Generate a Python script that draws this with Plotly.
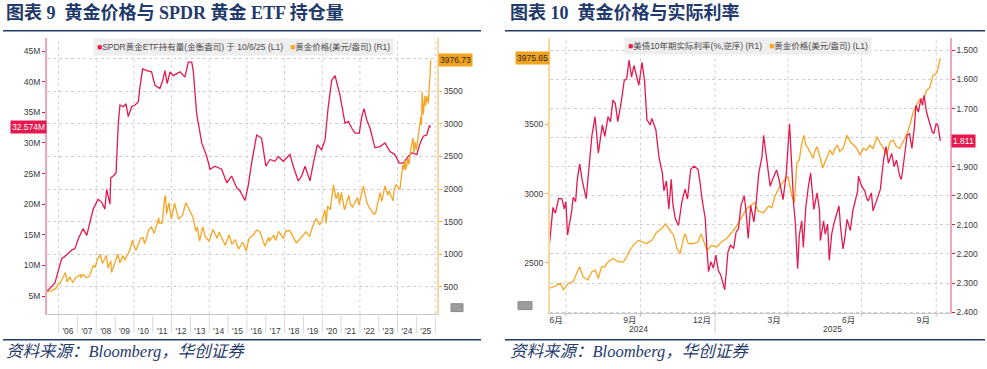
import plotly.graph_objects as go

# ================= 图表9 : SPDR holdings vs gold =================
spdr_dates = ["2005-05-15", "2005-10-20", "2006-03-01", "2006-06-05", "2006-09-12", "2006-11-14",
              "2007-01-20", "2007-04-20", "2007-07-01", "2007-09-02", "2007-11-03", "2008-02-06",
              "2008-04-16", "2008-06-17", "2008-07-20", "2008-09-24", "2008-10-08", "2008-11-25",
              "2009-01-19", "2009-03-04", "2009-04-05", "2009-06-10", "2009-07-31", "2009-09-13",
              "2009-11-17", "2010-01-23", "2010-03-26", "2010-04-28", "2010-06-18", "2010-09-06",
              "2010-12-09", "2011-02-14", "2011-05-19", "2011-07-13", "2011-08-26", "2011-10-08",
              "2011-12-02", "2012-02-02", "2012-06-13", "2012-09-16", "2012-11-21", "2013-01-26",
              "2013-02-24", "2013-05-01", "2013-08-08", "2013-11-14", "2014-01-15", "2014-04-23",
              "2014-08-29", "2014-12-06", "2015-03-10", "2015-06-17", "2015-08-18", "2015-11-24",
              "2016-01-26", "2016-04-01", "2016-07-08", "2016-10-11", "2017-01-04", "2017-03-25",
              "2017-06-28", "2017-09-02", "2017-12-06", "2018-04-16", "2018-06-18", "2018-09-24",
              "2018-11-28", "2019-02-02", "2019-05-08", "2019-07-13", "2019-09-28", "2019-12-20",
              "2020-02-24", "2020-04-27", "2020-07-02", "2020-09-06", "2020-10-20", "2020-12-10",
              "2021-03-18", "2021-05-23", "2021-07-27", "2021-09-28", "2021-12-20", "2022-02-06",
              "2022-03-22", "2022-05-12", "2022-07-17", "2022-10-20", "2023-01-26", "2023-05-01",
              "2023-08-08", "2023-11-10", "2024-02-02", "2024-04-20", "2024-07-27", "2024-10-01",
              "2025-01-08", "2025-03-15", "2025-05-15", "2025-07-20", "2025-09-10", "2025-10-06"]
spdr_moz = [5.74, 7.1, 11.1, 11.7, 12.5, 12.75, 14.4, 16.0, 14.9, 17.05, 19.2, 20.8,
            20.3, 19.2, 22.4, 20.0, 24.3, 24.6, 25.1, 33.2, 36.2, 35.9, 36.4, 34.3,
            35.9, 36.2, 36.7, 39.1, 42.1, 41.8, 41.6, 39.4, 38.9, 40.2, 41.8, 39.7,
            41.6, 41.0, 41.6, 40.75, 43.2, 43.2, 41.8, 34.8, 30.0, 27.8, 25.7, 26.2,
            25.7, 23.5, 24.6, 22.7, 22.2, 20.6, 23.0, 26.7, 31.3, 30.8, 26.2, 27.3,
            27.0, 27.8, 27.0, 28.1, 26.2, 23.8, 24.6, 26.2, 23.8, 26.7, 29.7, 28.9,
            30.5, 35.9, 40.2, 41.0, 39.7, 37.8, 33.2, 33.5, 32.4, 31.6, 31.6, 34.3,
            35.6, 33.8, 32.4, 29.2, 29.4, 30.0, 28.6, 28.1, 26.7, 26.7, 27.8, 28.4,
            28.1, 30.0, 31.1, 31.3, 32.8, 32.574]

gold9_dates = ["2005-05-15", "2005-08-15", "2005-11-15", "2005-12-12", "2006-02-01", "2006-05-12",
               "2006-06-14", "2006-08-01", "2006-10-05", "2006-12-01", "2007-02-26", "2007-03-05",
               "2007-04-20", "2007-06-25", "2007-08-16", "2007-10-01", "2007-11-08", "2007-12-10",
               "2008-01-15", "2008-03-17", "2008-05-01", "2008-07-15", "2008-08-15", "2008-10-10",
               "2008-10-24", "2008-12-31", "2009-02-20", "2009-04-06", "2009-06-01", "2009-07-08",
               "2009-09-08", "2009-10-14", "2009-12-02", "2010-02-05", "2010-03-15", "2010-05-12",
               "2010-06-28", "2010-07-27", "2010-10-14", "2010-12-07", "2011-01-28", "2011-04-29",
               "2011-05-05", "2011-07-01", "2011-08-22", "2011-09-06", "2011-09-26", "2011-11-08",
               "2011-12-29", "2012-02-28", "2012-05-16", "2012-08-01", "2012-10-04", "2012-12-31",
               "2013-02-20", "2013-04-15", "2013-05-15", "2013-06-28", "2013-08-27", "2013-10-15",
               "2013-12-31", "2014-03-14", "2014-06-03", "2014-07-10", "2014-09-30", "2014-11-06",
               "2015-01-22", "2015-03-17", "2015-05-18", "2015-07-24", "2015-10-14", "2015-12-17",
               "2016-02-11", "2016-05-02", "2016-07-06", "2016-09-07", "2016-12-15", "2017-02-27",
               "2017-03-15", "2017-06-06", "2017-07-10", "2017-09-08", "2017-12-12", "2018-01-25",
               "2018-04-11", "2018-08-16", "2018-10-26", "2019-02-20", "2019-05-02", "2019-06-25",
               "2019-09-04", "2019-11-12", "2019-12-31", "2020-02-24", "2020-03-19", "2020-04-14",
               "2020-06-05", "2020-08-06", "2020-09-25", "2020-11-06", "2020-11-30", "2021-01-06",
               "2021-03-08", "2021-06-01", "2021-06-30", "2021-08-09", "2021-11-16", "2021-12-15",
               "2022-03-08", "2022-05-16", "2022-07-21", "2022-09-28", "2022-11-03", "2023-01-25",
               "2023-02-28", "2023-05-03", "2023-06-29", "2023-07-20", "2023-10-05", "2023-10-27",
               "2023-12-04", "2024-02-14", "2024-04-12", "2024-05-02", "2024-05-20", "2024-06-07",
               "2024-07-17", "2024-08-07", "2024-09-25", "2024-10-30", "2024-11-14", "2024-12-11",
               "2024-12-30", "2025-01-31", "2025-02-24", "2025-03-31", "2025-04-08", "2025-04-22",
               "2025-05-15", "2025-06-13", "2025-06-30", "2025-07-22", "2025-08-20", "2025-09-05",
               "2025-09-23", "2025-09-30", "2025-10-06"]
gold9_usd = [425, 440, 480, 530, 560, 720,
             575, 650, 570, 645, 685, 640,
             690, 645, 655, 740, 835, 800,
             900, 1000, 860, 985, 790, 900,
             720, 880, 1000, 870, 980, 910,
             1000, 1065, 1215, 1060, 1125, 1245,
             1255, 1160, 1375, 1420, 1320, 1560,
             1480, 1480, 1880, 1900, 1620, 1790,
             1540, 1785, 1540, 1600, 1790, 1665,
             1570, 1350, 1420, 1200, 1420, 1270,
             1200, 1380, 1245, 1340, 1210, 1140,
             1300, 1150, 1225, 1080, 1185, 1050,
             1245, 1295, 1370, 1350, 1125, 1260,
             1200, 1295, 1210, 1350, 1240, 1360,
             1365, 1175, 1235, 1345, 1270, 1420,
             1550, 1450, 1520, 1680, 1475, 1740,
             1680, 2065, 1850, 1950, 1765, 1950,
             1680, 1905, 1765, 1725, 1870, 1755,
             2050, 1790, 1690, 1620, 1630, 1945,
             1810, 2050, 1905, 1975, 1820, 2000,
             2070, 1990, 2370, 2300, 2440, 2290,
             2470, 2380, 2660, 2785, 2560, 2720,
             2600, 2810, 2950, 3120, 2980, 3490,
             3140, 3430, 3280, 3430, 3315, 3590,
             3790, 3860, 3976.73]

c9_tick_vals = ["2006-07-02", "2007-07-02", "2008-07-02", "2009-07-02", "2010-07-02",
                "2011-07-02", "2012-07-02", "2013-07-02", "2014-07-02", "2015-07-02",
                "2016-07-02", "2017-07-02", "2018-07-02", "2019-07-02", "2020-07-02",
                "2021-07-02", "2022-07-02", "2023-07-02", "2024-07-02", "2025-07-02"]
c9_tick_text = ["'06", "'07", "'08", "'09", "'10", "'11", "'12", "'13", "'14", "'15",
                "'16", "'17", "'18", "'19", "'20", "'21", "'22", "'23", "'24", "'25"]
c9_year_bounds = ["2006-01-01", "2007-01-01", "2008-01-01", "2009-01-01", "2010-01-01",
                  "2011-01-01", "2012-01-01", "2013-01-01", "2014-01-01", "2015-01-01",
                  "2016-01-01", "2017-01-01", "2018-01-01", "2019-01-01", "2020-01-01",
                  "2021-01-01", "2022-01-01", "2023-01-01", "2024-01-01", "2025-01-01",
                  "2026-01-01"]
c9_grid_dates = ["2006-01-01", "2008-01-01", "2010-01-01", "2012-01-01", "2014-01-01",
                 "2016-01-01", "2018-01-01", "2020-01-01", "2022-01-01", "2024-01-01",
                 "2026-01-01"]
spdr_tick_vals = [5, 10, 15, 20, 25, 30, 35, 40, 45]
spdr_tick_text = ["5M", "10M", "15M", "20M", "25M", "30M", "35M", "40M", "45M"]
gold9_tick_vals = [500, 1000, 1500, 2000, 2500, 3000, 3500, 4000]
gold9_tick_text = ["500", "1000", "1500", "2000", "2500", "3000", "3500", ""]  # 4000 hidden under tag

# ================= 图表10 : real rate vs gold =================
rate_dates = ["2024-06-11", "2024-06-15", "2024-06-18", "2024-06-22", "2024-06-26", "2024-06-29",
              "2024-07-01", "2024-07-03", "2024-07-08", "2024-07-10", "2024-07-13", "2024-07-15",
              "2024-07-18", "2024-07-21", "2024-07-26", "2024-07-29", "2024-08-02", "2024-08-06",
              "2024-08-10", "2024-08-15", "2024-08-18", "2024-08-22", "2024-08-25", "2024-08-28",
              "2024-08-31", "2024-09-03", "2024-09-07", "2024-09-11", "2024-09-14", "2024-09-17",
              "2024-09-20", "2024-09-23", "2024-09-26", "2024-09-29", "2024-10-03", "2024-10-06",
              "2024-10-09", "2024-10-13", "2024-10-15", "2024-10-20", "2024-10-24", "2024-10-28",
              "2024-10-30", "2024-11-02", "2024-11-05", "2024-11-08", "2024-11-10", "2024-11-13",
              "2024-11-17", "2024-11-21", "2024-11-25", "2024-11-28", "2024-12-02", "2024-12-06",
              "2024-12-11", "2024-12-13", "2024-12-16", "2024-12-20", "2024-12-22", "2024-12-24",
              "2024-12-27", "2024-12-30", "2025-01-02", "2025-01-05", "2025-01-08", "2025-01-11",
              "2025-01-13", "2025-01-17", "2025-01-20", "2025-01-24", "2025-01-27", "2025-01-30",
              "2025-02-02", "2025-02-06", "2025-02-08", "2025-02-11", "2025-02-14", "2025-02-18",
              "2025-02-21", "2025-02-24", "2025-02-28", "2025-03-02", "2025-03-06", "2025-03-10",
              "2025-03-13", "2025-03-18", "2025-03-21", "2025-03-26", "2025-03-30", "2025-04-03",
              "2025-04-07", "2025-04-08", "2025-04-10", "2025-04-13", "2025-04-15", "2025-04-18",
              "2025-04-20", "2025-04-23", "2025-04-26", "2025-04-29", "2025-05-01", "2025-05-03",
              "2025-05-07", "2025-05-10", "2025-05-11", "2025-05-15", "2025-05-17", "2025-05-20",
              "2025-05-22", "2025-05-25", "2025-05-28", "2025-05-31", "2025-06-03", "2025-06-05",
              "2025-06-08", "2025-06-10", "2025-06-13", "2025-06-17", "2025-06-20", "2025-06-23",
              "2025-06-26", "2025-06-27", "2025-07-01", "2025-07-05", "2025-07-07", "2025-07-09",
              "2025-07-13", "2025-07-15", "2025-07-20", "2025-07-24", "2025-07-28", "2025-07-31",
              "2025-08-03", "2025-08-07", "2025-08-10", "2025-08-13", "2025-08-17", "2025-08-19",
              "2025-08-22", "2025-08-26", "2025-08-29", "2025-09-01", "2025-09-04", "2025-09-06",
              "2025-09-09", "2025-09-12", "2025-09-14", "2025-09-16", "2025-09-19", "2025-09-23",
              "2025-09-26", "2025-09-28", "2025-10-01", "2025-10-03", "2025-10-06"]
rate_pct = [2.16, 2.04, 2.06, 2.01, 2.01, 2.045,
            2.02, 2.135, 2.055, 2.005, 2.02, 1.945,
            1.89, 1.945, 2.01, 1.92, 1.795, 1.728,
            1.853, 1.756, 1.796, 1.728, 1.745, 1.671,
            1.683, 1.745, 1.683, 1.603, 1.598, 1.533,
            1.592, 1.552, 1.592, 1.62, 1.541, 1.603,
            1.739, 1.756, 1.734, 1.773, 1.87, 1.921,
            1.983, 1.949, 2.045, 1.943, 2.028, 2.079,
            2.102, 2.023, 1.977, 2.011, 1.909, 1.898,
            1.909, 1.943, 2.011, 2.079, 2.181, 2.261,
            2.227, 2.249, 2.204, 2.255, 2.272, 2.306,
            2.323, 2.193, 2.17, 2.181, 2.125, 2.113,
            2.034, 2.0, 2.045, 2.147, 2.034, 2.09,
            2.018, 1.922, 1.865, 1.792, 1.877, 1.967,
            1.944, 1.911, 1.944, 2.013, 1.922, 1.752,
            1.967, 2.03, 2.086, 2.251, 2.137, 2.086,
            2.177, 2.041, 1.973, 1.922, 1.984, 2.047,
            1.99, 2.052, 2.154, 2.086, 2.132, 2.098,
            2.222, 2.132, 2.092, 2.064, 2.035, 2.109,
            2.183, 2.149, 2.081, 2.12, 2.052, 2.018,
            1.984, 1.933, 1.967, 1.984, 2.007, 2.018,
            1.99, 2.052, 2.007, 1.979, 1.877, 1.831,
            1.888, 1.854, 1.899, 1.877, 1.933, 1.944,
            1.882, 1.792, 1.786, 1.837, 1.763, 1.689,
            1.712, 1.667, 1.689, 1.655, 1.712, 1.752,
            1.78, 1.786, 1.752, 1.757, 1.811]

gold10_dates = ["2024-06-11", "2024-06-17", "2024-06-24", "2024-06-28", "2024-07-04", "2024-07-10",
                "2024-07-16", "2024-07-18", "2024-07-22", "2024-07-28", "2024-08-02", "2024-08-06",
                "2024-08-10", "2024-08-14", "2024-08-18", "2024-08-22", "2024-08-28", "2024-09-04",
                "2024-09-10", "2024-09-14", "2024-09-18", "2024-09-22", "2024-09-28", "2024-10-03",
                "2024-10-09", "2024-10-15", "2024-10-21", "2024-10-27", "2024-11-01", "2024-11-05",
                "2024-11-11", "2024-11-15", "2024-11-19", "2024-11-23", "2024-11-25", "2024-11-29",
                "2024-12-05", "2024-12-11", "2024-12-15", "2024-12-19", "2024-12-22", "2024-12-28",
                "2025-01-03", "2025-01-09", "2025-01-15", "2025-01-22", "2025-01-28", "2025-02-03",
                "2025-02-09", "2025-02-15", "2025-02-19", "2025-02-23", "2025-03-02", "2025-03-08",
                "2025-03-12", "2025-03-16", "2025-03-20", "2025-03-22", "2025-03-28", "2025-04-01",
                "2025-04-06", "2025-04-09", "2025-04-12", "2025-04-15", "2025-04-18", "2025-04-21",
                "2025-04-23", "2025-04-26", "2025-04-29", "2025-05-02", "2025-05-04", "2025-05-07",
                "2025-05-11", "2025-05-14", "2025-05-17", "2025-05-20", "2025-05-23", "2025-05-26",
                "2025-05-29", "2025-06-01", "2025-06-04", "2025-06-08", "2025-06-13", "2025-06-17",
                "2025-06-21", "2025-06-25", "2025-06-29", "2025-07-03", "2025-07-07", "2025-07-11",
                "2025-07-15", "2025-07-20", "2025-07-24", "2025-07-28", "2025-08-01", "2025-08-05",
                "2025-08-09", "2025-08-13", "2025-08-17", "2025-08-21", "2025-08-26", "2025-08-30",
                "2025-09-02", "2025-09-06", "2025-09-11", "2025-09-16", "2025-09-19", "2025-09-23",
                "2025-09-27", "2025-09-30", "2025-10-02", "2025-10-06"]
gold10_usd = [2317, 2329, 2353, 2305, 2353, 2364,
              2448, 2471, 2400, 2376, 2436, 2448,
              2389, 2471, 2471, 2507, 2531, 2507,
              2507, 2543, 2591, 2626, 2662, 2650,
              2639, 2662, 2721, 2746, 2781, 2746,
              2698, 2603, 2567, 2674, 2710, 2639,
              2639, 2650, 2710, 2639, 2591, 2626,
              2614, 2650, 2674, 2721, 2769, 2829,
              2889, 2920, 2936, 2874, 2862, 2910,
              2898, 2981, 3029, 3053, 3100, 3124,
              2981, 2934, 3219, 3243, 3362, 3421,
              3350, 3326, 3291, 3255, 3303, 3338,
              3255, 3184, 3231, 3267, 3314, 3279,
              3326, 3350, 3303, 3326, 3421, 3374,
              3350, 3326, 3279, 3326, 3314, 3350,
              3326, 3410, 3362, 3326, 3279, 3374,
              3386, 3338, 3326, 3374, 3434, 3505,
              3576, 3636, 3684, 3684, 3743, 3767,
              3850, 3862, 3874, 3975.65]

c10_tick_vals = ["2024-06-19", "2024-09-18", "2024-12-16", "2025-03-15", "2025-06-15", "2025-09-15"]
c10_tick_text = ["6月", "9月", "12月", "3月", "6月", "9月"]
c10_quarters = ["2024-07-01", "2024-10-01", "2025-01-01", "2025-04-01", "2025-07-01", "2025-10-01"]
c10_year_pos = ["2024-09-29", "2025-05-26"]
c10_year_text = ["2024", "2025"]
c10_year_bound = "2025-01-01"
gold10_tick_vals = [2500, 3000, 3500, 4000]
gold10_tick_text = ["2500", "3000", "3500", ""]  # 4000 hidden under tag
rate_tick_vals = [1.5, 1.6, 1.7, 1.8, 1.9, 2.0, 2.1, 2.2, 2.3, 2.4]
rate_tick_text = ["1.500", "1.600", "1.700", "", "1.900", "2.000", "2.100", "2.200", "2.300", "2.400"]

# ================= styling =================
W, H = 987, 369
PINK = "#E5194F"
ORANGE = "#F6A525"
PINK_AX = "#F3A6BA"
ORANGE_AX = "#F8D7A2"
NAVY = "#1F3A6B"
GRID = "#CFCFCF"
TICKFONT = dict(family="Liberation Sans, Noto Sans CJK SC", size=8.5, color="#3A3A3A")


def px(x):
    return x / W


def py(y):
    return 1 - y / H


fig = go.Figure()
fig.add_trace(go.Scatter(x=gold9_dates, y=gold9_usd, mode="lines", xaxis="x", yaxis="y2",
                         line=dict(color=ORANGE, width=1.3), showlegend=False))
fig.add_trace(go.Scatter(x=spdr_dates, y=spdr_moz, mode="lines", xaxis="x", yaxis="y",
                         line=dict(color=PINK, width=1.3), showlegend=False))
fig.add_trace(go.Scatter(x=gold10_dates, y=gold10_usd, mode="lines", xaxis="x2", yaxis="y3",
                         line=dict(color=ORANGE, width=1.3), showlegend=False))
fig.add_trace(go.Scatter(x=rate_dates, y=rate_pct, mode="lines", xaxis="x2", yaxis="y4",
                         line=dict(color=PINK, width=1.3), showlegend=False))

dom9_x = [px(46.7), px(437.3)]
dom9_y = [py(317.7), py(38)]
dom10_x = [px(549.7), px(950)]
dom10_y = [py(316.7), py(38)]

fig.update_layout(
    width=W, height=H, autosize=False,
    margin=dict(l=0, r=0, t=0, b=0),
    paper_bgcolor="white", plot_bgcolor="white",
    showlegend=False,
    xaxis=dict(domain=dom9_x, anchor="y", type="date",
               range=["2005-05-15", "2026-02-10"],
               tickmode="array", tickvals=c9_tick_vals, ticktext=c9_tick_text,
               ticks="", showgrid=False, zeroline=False,
               showline=True, linecolor="#C8C8C8", linewidth=1,
               tickfont=TICKFONT, ticklabelstandoff=9),
    yaxis=dict(domain=dom9_y, anchor="x", side="left", range=[2.03, 47.2],
               tickmode="array", tickvals=spdr_tick_vals, ticktext=spdr_tick_text,
               ticks="outside", ticklen=3, tickcolor=PINK, showgrid=False, zeroline=False,
               showline=True, linecolor=PINK_AX, linewidth=1.5, tickfont=TICKFONT),
    yaxis2=dict(overlaying="y", anchor="x", side="right", range=[80, 4324],
                tickmode="array", tickvals=gold9_tick_vals, ticktext=gold9_tick_text,
                ticks="outside", ticklen=3, tickcolor=ORANGE,
                showgrid=True, gridcolor=GRID, griddash="dot", gridwidth=1, zeroline=False,
                showline=True, linecolor=ORANGE_AX, linewidth=1.5, tickfont=TICKFONT),
    xaxis2=dict(domain=dom10_x, anchor="y3", type="date",
                range=["2024-06-11", "2025-10-18"],
                tickmode="array", tickvals=c10_tick_vals, ticktext=c10_tick_text,
                ticks="", showgrid=False, zeroline=False,
                showline=True, linecolor="#C8C8C8", linewidth=1,
                tickfont=TICKFONT, ticklabelstandoff=-1),
    yaxis3=dict(domain=dom10_y, anchor="x2", side="left", range=[2136, 4126],
                tickmode="array", tickvals=gold10_tick_vals, ticktext=gold10_tick_text,
                ticks="outside", ticklen=3, tickcolor=ORANGE, showgrid=False, zeroline=False,
                showline=True, linecolor=ORANGE_AX, linewidth=1.5, tickfont=TICKFONT),
    yaxis4=dict(overlaying="y3", anchor="x2", side="right", range=[2.404, 1.456],
                tickmode="array", tickvals=rate_tick_vals, ticktext=rate_tick_text,
                ticks="outside", ticklen=3, tickcolor=PINK,
                showgrid=True, gridcolor=GRID, griddash="dot", gridwidth=1, zeroline=False,
                showline=True, linecolor=PINK_AX, linewidth=1.5, tickfont=TICKFONT),
)

shapes = []
for d in c9_grid_dates:
    shapes.append(dict(type="line", xref="x", yref="y domain", x0=d, x1=d, y0=0, y1=1,
                       line=dict(color=GRID, width=1, dash="dot"), layer="below"))
for d in c9_year_bounds:
    shapes.append(dict(type="line", xref="x", yref="paper", x0=d, x1=d,
                       y0=py(319), y1=py(337), line=dict(color="#DADADA", width=1)))
for d in c10_quarters:
    shapes.append(dict(type="line", xref="x2", yref="y3 domain", x0=d, x1=d, y0=0, y1=1,
                       line=dict(color=GRID, width=1, dash="dot"), layer="below"))
    shapes.append(dict(type="line", xref="x2", yref="paper", x0=d, x1=d,
                       y0=py(316.7), y1=py(320), line=dict(color="#BBBBBB", width=1)))
shapes.append(dict(type="line", xref="x2", yref="paper", x0=c10_year_bound, x1=c10_year_bound,
                   y0=py(321), y1=py(336), line=dict(color="#CFCFCF", width=1)))
for (x0, x1) in [(3, 481), (505, 985)]:
    shapes.append(dict(type="line", xref="paper", yref="paper", x0=px(x0), x1=px(x1),
                       y0=py(31), y1=py(31), line=dict(color=NAVY, width=1.5)))
    shapes.append(dict(type="line", xref="paper", yref="paper", x0=px(x0), x1=px(x1),
                       y0=py(343.5), y1=py(343.5), line=dict(color=NAVY, width=1.5)))
for (x0, y0, x1, y1) in [(451, 307, 463, 315), (518, 305, 532, 313)]:
    shapes.append(dict(type="rect", xref="paper", yref="paper", x0=px(x0), x1=px(x1),
                       y0=py(y1), y1=py(y0), fillcolor="#9C9C9C", line=dict(color="#8A8A8A", width=1)))
fig.update_layout(shapes=shapes)

ann = []
TITLE_FONT = dict(family="Liberation Serif, Noto Sans CJK SC", size=18, color=NAVY, weight="bold")
SRC_FONT = dict(family="Liberation Serif, Noto Sans CJK SC", size=16.5, color=NAVY, style="italic")
ann.append(dict(text="图表 9  黄金价格与 SPDR 黄金 ETF 持仓量", xref="paper", yref="paper",
                x=px(4), y=py(13), xanchor="left", yanchor="middle", showarrow=False, font=TITLE_FONT))
ann.append(dict(text="图表 10  黄金价格与实际利率", xref="paper", yref="paper",
                x=px(508), y=py(13), xanchor="left", yanchor="middle", showarrow=False, font=TITLE_FONT))
ann.append(dict(text="资料来源：Bloomberg，华创证券", xref="paper", yref="paper",
                x=px(4), y=py(355), xanchor="left", yanchor="middle", showarrow=False, font=SRC_FONT))
ann.append(dict(text="资料来源：Bloomberg，华创证券", xref="paper", yref="paper",
                x=px(508), y=py(355), xanchor="left", yanchor="middle", showarrow=False, font=SRC_FONT))

LEG_FONT = dict(family="Liberation Sans, Noto Sans CJK SC", size=8.5, color="#4A4A4A")
ann.append(dict(text=f"<span style='color:{PINK}'>■</span>SPDR黄金ETF持有量(金衡盎司) 于 10/6/25 (L1)   "
                     f"<span style='color:{ORANGE}'>■</span>黄金价格(美元/盎司) (R1)",
                xref="paper", yref="paper", x=px(93), y=py(47.5), xanchor="left", yanchor="middle",
                showarrow=False, bgcolor="#EEEEEE", borderpad=3, font=LEG_FONT))
ann.append(dict(text=f"<span style='color:{PINK}'>■</span>美债10年期实际利率(%,逆序) (R1)   "
                     f"<span style='color:{ORANGE}'>■</span>黄金价格(美元/盎司) (L1)",
                xref="paper", yref="paper", x=px(624), y=py(47), xanchor="left", yanchor="middle",
                showarrow=False, bgcolor="#EEEEEE", borderpad=3, font=LEG_FONT))

TAG_FONT = dict(family="Liberation Sans, Noto Sans CJK SC", size=8.5)
ann.append(dict(text=f"{spdr_moz[-1]:.3f}M", xref="paper", yref="y", x=px(46.5), y=spdr_moz[-1],
                xanchor="right", yanchor="middle", showarrow=False, bgcolor=PINK, borderpad=1,
                font=dict(TAG_FONT, color="white")))
ann.append(dict(text=f"{gold9_usd[-1]:.2f}", xref="paper", yref="y2", x=px(438), y=gold9_usd[-1],
                xanchor="left", yanchor="middle", showarrow=False, bgcolor="#F2A21E", borderpad=1,
                font=dict(TAG_FONT, color="#2A2A2A")))
ann.append(dict(text=f"{gold10_usd[-1]:.2f}", xref="paper", yref="y3", x=px(549.5), y=gold10_usd[-1],
                xanchor="right", yanchor="middle", showarrow=False, bgcolor="#F2A21E", borderpad=1,
                font=dict(TAG_FONT, color="#2A2A2A")))
ann.append(dict(text=f"{rate_pct[-1]:.3f}", xref="paper", yref="y4", x=px(950.5), y=rate_pct[-1],
                xanchor="left", yanchor="middle", showarrow=False, bgcolor=PINK, borderpad=1,
                font=dict(TAG_FONT, color="white")))

for pos, txt in zip(c10_year_pos, c10_year_text):
    ann.append(dict(text=txt, xref="x2", yref="paper", x=pos, y=py(333), xanchor="center",
                    yanchor="middle", showarrow=False, font=TICKFONT))

fig.update_layout(annotations=ann)
fig.write_html(
    "out.html",
    config={"displayModeBar": False},
    post_script="document.body.style.margin='0';document.body.style.padding='0';"
                "document.body.style.overflow='hidden';",
)
